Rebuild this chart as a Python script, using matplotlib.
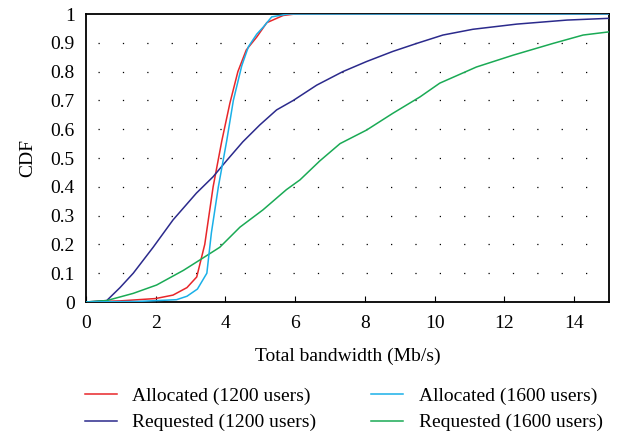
import matplotlib.pyplot as plt
import numpy as np

plt.rcParams['font.family'] = ['Liberation Serif', 'DejaVu Serif']

# Allocated (1200 users)
x_alloc1200 = [0, 1.0, 2.0, 2.5, 2.9, 3.18, 3.41, 3.65, 3.9, 4.13, 4.36, 4.6, 4.9, 5.19, 5.66, 6.0, 15]
y_alloc1200 = [0, 0.004, 0.012, 0.024, 0.05, 0.087, 0.2, 0.40, 0.56, 0.69, 0.80, 0.875, 0.92, 0.97, 0.995, 1.0, 1.0]

# Allocated (1600 users)
x_alloc1600 = [0, 1.5, 2.6, 2.9, 3.2, 3.47, 3.6, 3.8, 4.04, 4.23, 4.47, 4.66, 4.9, 5.09, 5.33, 5.8, 15]
y_alloc1600 = [0, 0.002, 0.008, 0.02, 0.045, 0.1, 0.24, 0.40, 0.56, 0.70, 0.82, 0.886, 0.93, 0.955, 0.99, 1.0, 1.0]

# Requested (1200 users)
x_req1200 = [0, 0.6, 0.98, 1.36, 1.93, 2.5, 3.17, 3.65, 4.03, 4.5, 4.99, 5.47, 5.95, 6.62, 7.37, 8.05,
             8.8, 9.49, 10.24, 11.1, 12.36, 13.8, 15]
y_req1200 = [0, 0.005, 0.05, 0.1, 0.19, 0.285, 0.378, 0.435, 0.49, 0.556, 0.615, 0.667, 0.70, 0.753, 0.80, 0.835,
             0.87, 0.898, 0.927, 0.947, 0.965, 0.979, 0.985]

# Requested (1600 users)
x_req1600 = [0, 0.6, 1.36, 2.03, 2.8, 3.27, 3.84, 4.42, 5.08, 5.75, 6.14, 6.71, 7.29, 8.05, 8.8, 9.58,
             10.15, 11.2, 12.25, 13.4, 14.26, 15]
y_req1600 = [0, 0.005, 0.03, 0.059, 0.11, 0.146, 0.19, 0.26, 0.32, 0.39, 0.424, 0.49, 0.55, 0.597, 0.655, 0.712,
             0.76, 0.816, 0.857, 0.898, 0.927, 0.938]

fig = plt.figure(figsize=(6.22, 4.38), dpi=100)
ax = fig.add_axes([0.138, 0.3105, 0.841, 0.6575])

# dotted horizontal grid
for yy in np.arange(0.1, 1.0, 0.1):
    ax.plot([0.35, 15], [yy, yy], color='black', lw=0.9, ls=(0, (1, 18.5)), zorder=1)

ax.plot(x_alloc1200, y_alloc1200, color='#e8262a', lw=1.1, label='Allocated (1200 users)', zorder=3)
ax.plot(x_req1200, y_req1200, color='#2b2a8c', lw=1.1, label='Requested (1200 users)', zorder=3)
ax.plot(x_alloc1600, y_alloc1600, color='#1ab0e8', lw=1.1, label='Allocated (1600 users)', zorder=4)
ax.plot(x_req1600, y_req1600, color='#1aaa55', lw=1.1, label='Requested (1600 users)', zorder=3)

ax.set_xlim(0, 15)
ax.set_ylim(0, 1)
ax.set_xticks([0, 2, 4, 6, 8, 10, 12, 14])
ax.set_yticks(np.round(np.arange(0, 1.01, 0.1), 1))
ax.set_yticklabels(['0', '0.1', '0.2', '0.3', '0.4', '0.5', '0.6', '0.7', '0.8', '0.9', '1'])
ax.tick_params(axis='x', direction='in', length=4, labelsize=14, pad=9)
ax.tick_params(axis='y', length=0, labelsize=14, pad=8)
for s in ax.spines.values():
    s.set_linewidth(1.3)

ax.set_xlabel('Total bandwidth (Mb/s)', fontsize=14, labelpad=12)
ax.set_ylabel('CDF', fontsize=14, labelpad=10)

handles, labels = ax.get_legend_handles_labels()
fig.legend(handles, labels, ncol=2, frameon=False,
           loc='lower left', bbox_to_anchor=(0.108, -0.025), fontsize=14,
           handlelength=1.65, handletextpad=0.8, columnspacing=2.8, labelspacing=0.45)

fig.savefig('out.png', dpi=100)
